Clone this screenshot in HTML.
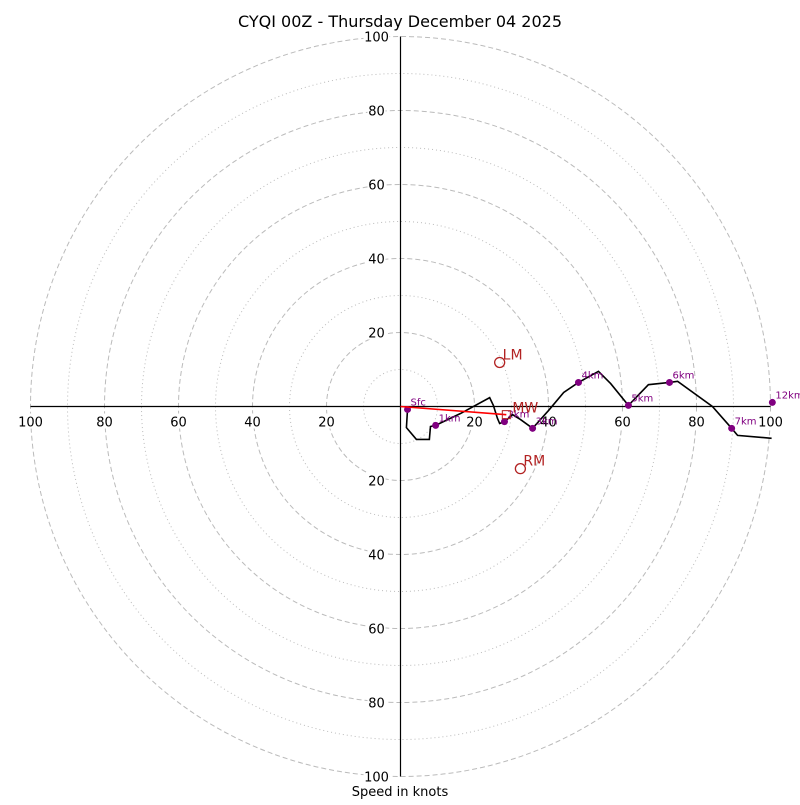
<!DOCTYPE html>
<html><head><meta charset="utf-8"><style>
body{margin:0;background:#fff}
svg text{font-family:"DejaVu Sans","Liberation Sans",sans-serif}
</style></head><body>
<svg id="chart" width="800" height="800" xmlns="http://www.w3.org/2000/svg">
<text x="400" y="27" text-anchor="middle" font-size="16">CYQI 00Z - Thursday December 04 2025</text>
<g id="rings"></g>
<g id="axes"></g>
<g id="series"></g>
<text x="400" y="796" text-anchor="middle" font-size="13">Speed in knots</text>
</svg>
<script>
const ringValues=[10,20,30,40,50,60,70,80,90,100];
const tickLabels=[20,40,60,80,100];
const traceU=[1.9,1.6,4.3,7.8,8.1,9.5,16.2,24.1,25.1,26.2,26.8,28.1,30.3,32.4,35.7,40,44.1,48.1,53.5,56.8,61.6,67,72.7,74.9,84.3,89.5,91.1,100.3];
const traceV=[-0.8,-5.7,-8.9,-8.9,-5.4,-5.1,-1.9,2.4,0.3,-3.2,-4.6,-4.1,-2.2,-3.5,-5.9,-1.1,3.8,6.5,9.5,6.2,0.3,5.9,6.5,6.8,0,-5.9,-7.8,-8.6];
const levelNames=["Sfc","1km","2km","3km","4km","5km","6km","7km","12km"];
const levelU=[1.9,9.5,28.1,35.7,48.1,61.6,72.7,89.5,100.5];
const levelV=[-0.8,-5.1,-4.1,-5.9,6.5,0.3,6.5,-5.9,1.1];
const lmUV=[26.8,11.9];
const rmUV=[32.4,-16.8];
const mwUV=[28.6,-2.2];

const NS="http://www.w3.org/2000/svg";
const cx=400.5,cy=406.5,k=3.7;
const X=u=>cx+u*k, Y=v=>cy-v*k;
function mk(tag,attrs,parent,txt){const e=document.createElementNS(NS,tag);for(const a in attrs)e.setAttribute(a,attrs[a]);if(txt!==undefined)e.textContent=txt;parent.appendChild(e);return e;}
const rings=document.getElementById('rings'),axes=document.getElementById('axes'),series=document.getElementById('series');
ringValues.forEach(r=>{
 const c=mk('circle',{cx:cx,cy:cy,r:r*k,fill:'none',stroke:'#bbb','stroke-width':1,'stroke-dasharray':r%20===0?'5,3':'1,3'},rings);
 
 
});
const h=mk('line',{x1:X(-100),y1:cy,x2:X(100),y2:cy,stroke:'#000','stroke-width':1.2},axes);


const v=mk('line',{x1:cx,y1:Y(100),x2:cx,y2:Y(-100),stroke:'#000','stroke-width':1.2},axes);


function tick(x,y,t,name){
 const w=t.length*8+2;
 const r=mk('rect',{x:x-w/2,y:y-8,width:w,height:15,fill:'#fff'},axes);
 
 
 const e=mk('text',{x:x,y:y+5,'text-anchor':'middle','font-size':13},axes,t);
 
 
}
tickLabels.forEach(t=>{
 tick(X(t),cy+15,String(t),'x-tick-pos-'+t);
 tick(X(-t),cy+15,String(t),'x-tick-neg-'+t);
 tick(cx-24,Y(t),String(t),'y-tick-pos-'+t);
 tick(cx-24,Y(-t),String(t),'y-tick-neg-'+t);
});
const pts=traceU.map((u,i)=>X(u)+','+Y(traceV[i])).join(' ');
const pl=mk('polyline',{points:pts,fill:'none',stroke:'#000','stroke-width':1.6},series);


levelNames.forEach((n,i)=>{
 const d=mk('circle',{cx:X(levelU[i]),cy:Y(levelV[i]),r:3.5,fill:'#800080'},series);
 
 
 const t=mk('text',{x:X(levelU[i])+3,y:Y(levelV[i])-4,'font-size':10,fill:'#800080'},series,n);
 
 
});
const mw=mk('line',{x1:X(0),y1:Y(0),x2:X(mwUV[0]),y2:Y(mwUV[1]),stroke:'red','stroke-width':1.6},series);


const mws=mk('rect',{x:X(mwUV[0])-4,y:Y(mwUV[1])-4,width:8,height:8,fill:'none',stroke:'#b22222'},series);


const mwt=mk('text',{x:X(mwUV[0])+6,y:Y(mwUV[1])-2,'font-size':14,fill:'#b22222'},series,'MW');


[['LM',lmUV],['RM',rmUV]].forEach(([n,p])=>{
 const c=mk('circle',{cx:X(p[0]),cy:Y(p[1]),r:5,fill:'none',stroke:'#b22222','stroke-width':1.3},series);
 
 
 const t=mk('text',{x:X(p[0])+3,y:Y(p[1])-3,'font-size':14,fill:'#b22222'},series,n);
 
 
});
</script>
</body></html>
